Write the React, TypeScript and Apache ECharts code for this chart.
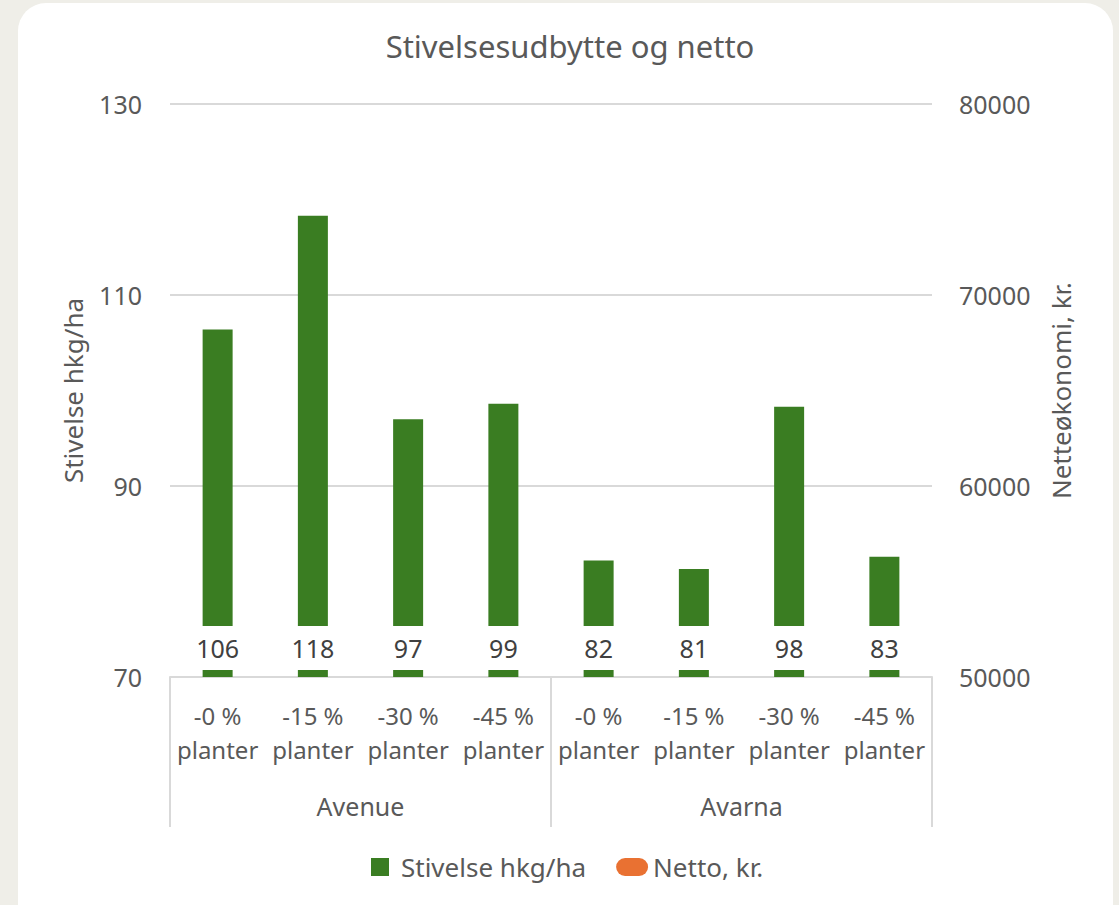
import React, { useEffect, useRef } from 'react';
import * as echarts from 'echarts';

const groups = ['Avenue', 'Avarna'];
const treatments = ['-0 %\nplanter', '-15 %\nplanter', '-30 %\nplanter', '-45 %\nplanter'];
const stivelseValues = [106.4, 118.3, 97.0, 98.6, 82.2, 81.3, 98.3, 82.6];
const nettoValues: (number | null)[] = [null, null, null, null, null, null, null, null];
const leftTicks = [70, 90, 110, 130];
const rightTicks = [50000, 60000, 70000, 80000];

const FONT = '"Noto Sans", "Open Sans", sans-serif';
const GREY = '#595959';
const LINE = '#d9d9d9';

export default function App() {
  const ref = useRef<HTMLDivElement>(null);
  useEffect(() => {
    if (!ref.current) return;
    const chart = echarts.init(ref.current, undefined, { renderer: 'svg' });
    const categories = groups.flatMap((g) => treatments.map((t) => g + '|' + t));
    chart.setOption({
      animation: false,
      backgroundColor: '#efeee8',
      textStyle: { fontFamily: FONT },
      graphic: [
        {
          type: 'rect',
          z: -10,
          silent: true,
          shape: { x: 18, y: 3, width: 1095, height: 930, r: 28 },
          style: { fill: '#ffffff' },
        },
      ],
      title: {
        text: 'Stivelsesudbytte og netto',
        left: 565,
        top: 25,
        textAlign: 'center',
        textStyle: { fontSize: 31, fontWeight: 'normal', color: GREY, fontFamily: FONT },
      },
      legend: {
        left: 366,
        top: 849,
        itemWidth: 32,
        itemHeight: 18,
        itemGap: 30,
        textStyle: { fontSize: 26, color: GREY, fontFamily: FONT },
        data: [
          { name: 'Stivelse hkg/ha', icon: 'path://M0,0H10V10H0Z' },
          { name: 'Netto, kr.', icon: 'path://M9,0H23A9,9 0 0 1 23,18H9A9,9 0 0 1 9,0Z' },
        ],
      },
      grid: { left: 170, right: 187, top: 104, bottom: 228, containLabel: false },
      xAxis: [
        {
          type: 'category',
          data: categories,
          position: 'bottom',
          axisLine: { show: true, lineStyle: { color: LINE, width: 2 } },
          axisTick: { show: false },
          axisLabel: {
            interval: 0,
            margin: 21,
            fontSize: 24,
            lineHeight: 34,
            color: GREY,
            fontFamily: FONT,
            formatter: (v: string) => v.split('|')[1],
          },
        },
        {
          type: 'category',
          data: groups,
          position: 'bottom',
          axisLine: { show: false },
          axisTick: { show: true, length: 150, interval: 0, lineStyle: { color: LINE, width: 2 } },
          axisLabel: { interval: 0, margin: 116, fontSize: 25, color: GREY, fontFamily: FONT },
          splitLine: { show: false },
        },
      ],
      yAxis: [
        {
          type: 'value',
          min: leftTicks[0],
          max: leftTicks[leftTicks.length - 1],
          interval: 10,
          name: 'Stivelse hkg/ha',
          nameLocation: 'middle',
          nameGap: 84,
          nameTextStyle: { fontSize: 26, color: GREY, fontFamily: FONT },
          axisLine: { show: false },
          axisTick: { show: false },
          splitLine: { show: false },
          axisLabel: {
            margin: 28,
            fontSize: 25,
            color: GREY,
            fontFamily: FONT,
            formatter: (v: number) => (leftTicks.includes(v) ? String(v) : ''),
          },
        },
        {
          type: 'value',
          position: 'right',
          min: rightTicks[0],
          max: rightTicks[rightTicks.length - 1],
          interval: 10000,
          name: 'Netteøkonomi, kr.',
          nameLocation: 'middle',
          nameRotate: 90,
          nameGap: 116,
          nameTextStyle: { fontSize: 26, color: GREY, fontFamily: FONT },
          axisLine: { show: false },
          axisTick: { show: false },
          splitLine: { show: true, lineStyle: { color: LINE, width: 2 } },
          axisLabel: {
            margin: 27,
            fontSize: 25,
            color: GREY,
            fontFamily: FONT,
            formatter: (v: number) => String(v),
          },
        },
      ],
      series: [
        {
          name: 'Stivelse hkg/ha',
          type: 'bar',
          xAxisIndex: 0,
          yAxisIndex: 0,
          barWidth: 30,
          data: stivelseValues,
          itemStyle: { color: '#3a7d22' },
          label: {
            show: true,
            position: 'insideBottom',
            distance: 7,
            fontSize: 25,
            lineHeight: 24,
            color: '#404040',
            fontFamily: FONT,
            backgroundColor: '#ffffff',
            padding: [10, 6, 10, 6],
            formatter: (p: any) => String(Math.round(p.value)),
          },
        },
        {
          name: 'Netto, kr.',
          type: 'line',
          xAxisIndex: 0,
          yAxisIndex: 1,
          data: nettoValues,
          itemStyle: { color: '#e97132' },
          lineStyle: { color: '#e97132', width: 4 },
          showSymbol: false,
        },
      ],
    });
    return () => chart.dispose();
  }, []);
  return (
    <div
      ref={ref}
      style={{ position: 'fixed', left: 0, top: 0, width: 1119, height: 905 }}
    />
  );
}
